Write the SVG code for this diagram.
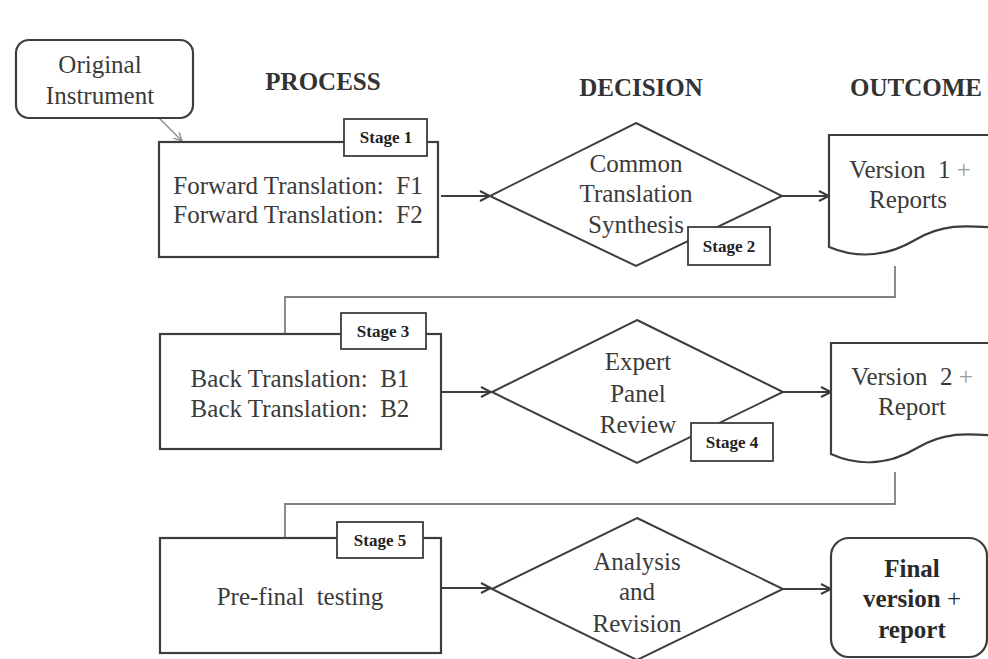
<svg xmlns="http://www.w3.org/2000/svg" width="988" height="659" viewBox="0 0 988 659">
<defs>
<marker id="arr" markerUnits="userSpaceOnUse" markerWidth="14" markerHeight="14" refX="12" refY="7" orient="auto">
<path d="M2,2 L12,7 L2,12" fill="none" stroke="#3a3a3a" stroke-width="2"/>
</marker>
<marker id="arrg" markerUnits="userSpaceOnUse" markerWidth="12" markerHeight="12" refX="10" refY="6" orient="auto">
<path d="M2,2 L10,6 L2,10" fill="none" stroke="#888" stroke-width="1.3"/>
</marker>
<style>
.box{fill:#fff;stroke:#3d3d3d;stroke-width:2.2}
.dia{fill:#fff;stroke:#3d3d3d;stroke-width:2}
.tag{fill:#fff;stroke:#3d3d3d;stroke-width:1.8}
.t{font-family:"Liberation Serif","Times New Roman",serif;font-size:25px;fill:#3a3a3a;text-anchor:middle}
.h{font-family:"Liberation Serif","Times New Roman",serif;font-size:25px;font-weight:bold;fill:#333;text-anchor:middle}
.s{font-family:"Liberation Serif","Times New Roman",serif;font-size:17px;font-weight:bold;fill:#222;text-anchor:middle}
.b{font-family:"Liberation Serif","Times New Roman",serif;font-size:25px;font-weight:bold;fill:#2a2a2a;text-anchor:middle}
.lp{fill:#999}
.arrow{fill:none;stroke:#3d3d3d;stroke-width:2.2;marker-end:url(#arr)}
.link{fill:none;stroke:#808080;stroke-width:1.8}
</style>
</defs>
<rect width="988" height="659" fill="#fff"/>

<g id="headings">
<text class="h" x="323" y="90">PROCESS</text>
<text class="h" x="641" y="96">DECISION</text>
<text class="h" x="916" y="96">OUTCOME</text>
</g>

<g id="connectors">
<line x1="159" y1="118" x2="182" y2="141" stroke="#888" stroke-width="1.3" marker-end="url(#arrg)"/>
<line class="arrow" x1="441" y1="196" x2="490" y2="196"/>
<line class="arrow" x1="782" y1="196" x2="829" y2="196"/>
<path class="link" d="M895,266 V297 H285 V334"/>
<line class="arrow" x1="441" y1="392" x2="491" y2="392"/>
<line class="arrow" x1="783" y1="392" x2="831" y2="392"/>
<path class="link" d="M895,472 V504 H285 V538"/>
<line class="arrow" x1="441" y1="588" x2="491" y2="588"/>
<line class="arrow" x1="783" y1="589" x2="831" y2="589"/>
</g>

<g id="original">
<rect class="box" x="16" y="40" width="177" height="78" rx="13"/>
<text class="t" x="100" y="73">Original</text>
<text class="t" x="100" y="104">Instrument</text>
</g>

<g id="stage1">
<rect class="box" x="159" y="142" width="279" height="115"/>
<rect class="tag" x="344" y="119" width="83" height="37"/>
<text class="s" x="386" y="143">Stage 1</text>
<text class="t" x="298" y="194" font-size="26">Forward Translation:&#160; F1</text>
<text class="t" x="298" y="223" font-size="26">Forward Translation:&#160; F2</text>
</g>

<g id="stage2">
<polygon class="dia" points="636,123 782,196 636,266 490,196"/>
<text class="t" x="636" y="172">Common</text>
<text class="t" x="636" y="202">Translation</text>
<text class="t" x="636" y="233">Synthesis</text>
<rect class="tag" x="688" y="227" width="82" height="38"/>
<text class="s" x="729" y="252">Stage 2</text>
</g>

<g id="version1">
<path class="box" d="M829,247 V135 H1000 V228 C970,226 945,222 915,240 C890,255 860,260 829,247 Z"/>
<text class="t" x="910" y="178">Version&#160; 1 <tspan class="lp">+</tspan></text>
<text class="t" x="908" y="208">Reports</text>
</g>

<g id="stage3">
<rect class="box" x="160" y="334" width="281" height="115"/>
<rect class="tag" x="341" y="313" width="85" height="36"/>
<text class="s" x="383" y="337">Stage 3</text>
<text class="t" x="300" y="387" font-size="26">Back Translation:&#160; B1</text>
<text class="t" x="300" y="417" font-size="26">Back Translation:&#160; B2</text>
</g>

<g id="stage4">
<polygon class="dia" points="637,320 783,392 637,463 492,392"/>
<text class="t" x="638" y="370">Expert</text>
<text class="t" x="638" y="402">Panel</text>
<text class="t" x="638" y="433">Review</text>
<rect class="tag" x="691" y="423" width="82" height="38"/>
<text class="s" x="732" y="448">Stage 4</text>
</g>

<g id="version2">
<path class="box" d="M831,454 V343 H1000 V436 C972,434 947,430 917,448 C892,463 862,468 831,454 Z"/>
<text class="t" x="912" y="385">Version&#160; 2 <tspan class="lp">+</tspan></text>
<text class="t" x="912" y="415">Report</text>
</g>

<g id="stage5">
<rect class="box" x="160" y="538" width="281" height="115"/>
<rect class="tag" x="337" y="522" width="86" height="36"/>
<text class="s" x="380" y="546">Stage 5</text>
<text class="t" x="300" y="605" font-size="26">Pre-final&#160; testing</text>
</g>

<g id="analysis">
<polygon class="dia" points="637,518 783,589 637,660 492,589"/>
<text class="t" x="637" y="570">Analysis</text>
<text class="t" x="637" y="600">and</text>
<text class="t" x="637" y="632">Revision</text>
</g>

<g id="final">
<rect class="box" x="831" y="538" width="156" height="119" rx="18"/>
<text class="b" x="912" y="577">Final</text>
<text class="b" x="912" y="607">version <tspan font-weight="normal">+</tspan></text>
<text class="b" x="912" y="638">report</text>
</g>
</svg>
